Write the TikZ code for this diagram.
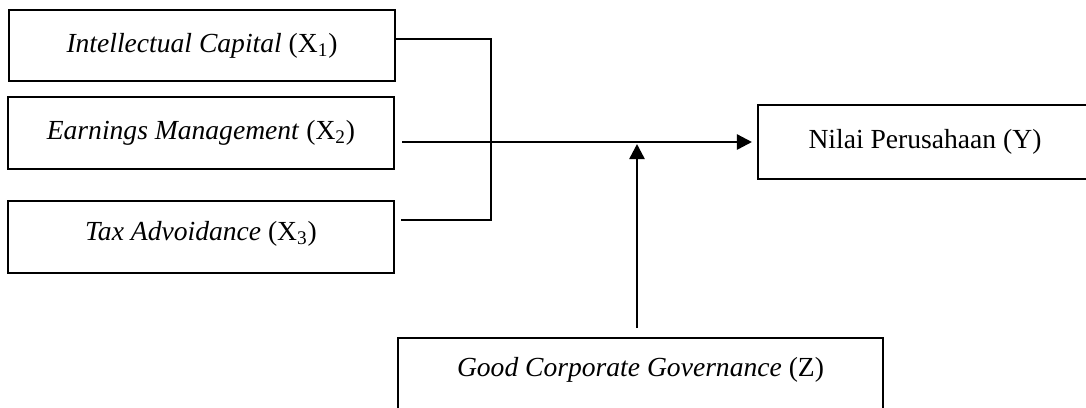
\documentclass[tikz,border=0pt]{standalone}
\usepackage{fontspec}
\setmainfont{Liberation Serif}
\usetikzlibrary{arrows.meta}

\begin{document}
\begin{tikzpicture}
  [x=0.02cm, y=-0.02cm,
   every node/.style={font=\fontsize{15.7}{19}\selectfont},
   var/.style={draw, line width=1.2pt, minimum width=7.72cm, minimum height=1.43cm, inner sep=0pt},
   link/.style={line width=1.4pt},
   >={Triangle[length=0.3cm, width=0.3cm]}]
\path[use as bounding box, clip] (0,0) rectangle (1086,407);

% independent variables
\node[var] (ic) at (202,45.5) {\textit{Intellectual Capital} (X\textsubscript{1})};
\node[var] (em) at (201,133) {\textit{Earnings Management} (X\textsubscript{2})};
\node[var, text depth=0.24cm] (ta) at (201,237) {\textit{Tax Advoidance} (X\textsubscript{3})};

% dependent and moderating variables
\node[var, minimum width=6.68cm, minimum height=1.48cm] (nilai) at (925,142)
  {Nilai Perusahaan (Y)};
\node[var, anchor=north, minimum width=9.7cm, text height=0.76cm, text depth=0.74cm]
  (gcg) at (640.5,337) {\textit{Good Corporate Governance} (Z)};

\coordinate (bend) at (491,220);
\draw[link] ([yshift=0.13cm]ic.east) -| (bend) -- ([xshift=0.12cm]ta.east |- bend);
\draw[link, ->] ([xshift=0.14cm]em.east |- nilai.west) -- ([xshift=-0.1cm]nilai.west);
\draw[link, ->] ([xshift=-0.07cm, yshift=0.18cm]gcg.north)
  -- ([xshift=-0.07cm, yshift=-0.04cm]gcg.north |- nilai.west);
\end{tikzpicture}
\end{document}
